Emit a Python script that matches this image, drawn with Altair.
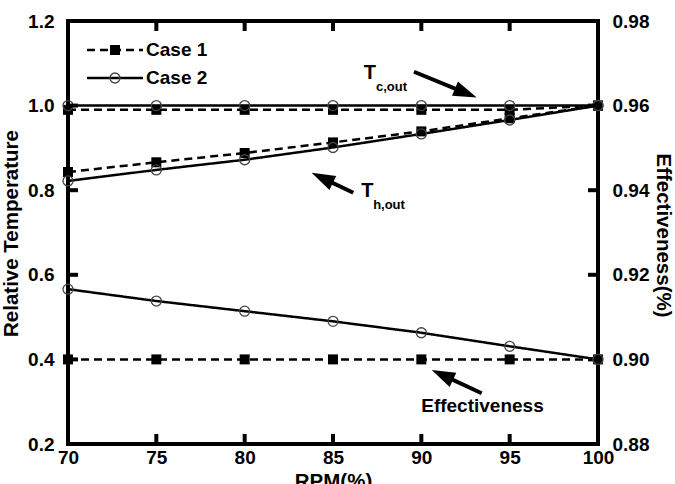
import math
import altair as alt
import pandas as pd

# ---------------- data ----------------
rpm = [70, 75, 80, 85, 90, 95, 100]
tc_case1 = [0.99, 0.99, 0.99, 0.99, 0.99, 0.99, 1.0]
tc_case2 = [1.0, 1.0, 1.0, 1.0, 1.0, 1.0, 1.0]
th_case1 = [0.843, 0.866, 0.888, 0.913, 0.939, 0.970, 1.0]
th_case2 = [0.822, 0.848, 0.872, 0.901, 0.933, 0.966, 1.0]
eff_case1 = [0.90, 0.90, 0.90, 0.90, 0.90, 0.90, 0.90]
eff_case2 = [0.9166, 0.9138, 0.9114, 0.909, 0.9063, 0.9031, 0.90]

cases = ["Case 1", "Case 2"]
x_ticks = [70, 75, 80, 85, 90, 95, 100]
yl_ticks = [0.2, 0.4, 0.6, 0.8, 1.0, 1.2]
yr_ticks = [0.88, 0.90, 0.92, 0.94, 0.96, 0.98]

FONT = "Liberation Sans"
W, H = 530, 423
X0, X1 = 70, 100
YL0, YL1 = 0.2, 1.2
YR0, YR1 = 0.88, 0.98
TICK_PX = 10
tick_dx = TICK_PX * (X1 - X0) / W
tick_dyl = TICK_PX * (YL1 - YL0) / H


def right_to_left(v):
    # position of a right-axis value expressed on the left axis
    return YL0 + (v - YR0) * (YL1 - YL0) / (YR1 - YR0)


rows = []
for name, c1, c2 in [("Tc", tc_case1, tc_case2), ("Th", th_case1, th_case2)]:
    for r, a, b in zip(rpm, c1, c2):
        rows.append({"rpm": r, "value": a, "case": "Case 1", "series": name})
        rows.append({"rpm": r, "value": b, "case": "Case 2", "series": name})
temp_df = pd.DataFrame(rows)

eff_rows = []
for r, a, b in zip(rpm, eff_case1, eff_case2):
    eff_rows.append({"rpm": r, "value": a, "case": "Case 1"})
    eff_rows.append({"rpm": r, "value": b, "case": "Case 2"})
eff_df = pd.DataFrame(eff_rows)

# annotation geometry (data space of left axis)
arrow_names = ["Tc", "Th", "Eff"]
arrow_tail_x = [89.585, 86.15, 93.417]
arrow_tail_y = [1.080, 0.794, 0.320]
arrow_tip_x = [93.134, 83.79, 90.586]
arrow_tip_y = [1.019, 0.841, 0.375]

seg_rows, head_rows = [], []
for n, tx, ty, hx, hy in zip(arrow_names, arrow_tail_x, arrow_tail_y, arrow_tip_x, arrow_tip_y):
    ex = tx + 0.8 * (hx - tx)
    ey = ty + 0.8 * (hy - ty)
    seg_rows.append({"seg": n, "x": tx, "value": ty, "o": 0})
    seg_rows.append({"seg": n, "x": ex, "value": ey, "o": 1})
    ang = math.degrees(math.atan2((hx - tx) * W / (X1 - X0), (hy - ty) * H / (YL1 - YL0))) % 360
    head_rows.append({"arrow": n, "x": hx, "value": hy, "angle": ang})

# inward tick segments on the four sides of the frame
for v in x_ticks[1:-1]:
    seg_rows += [{"seg": f"b{v}", "x": v, "value": YL0, "o": 0},
                 {"seg": f"b{v}", "x": v, "value": YL0 + tick_dyl, "o": 1},
                 {"seg": f"t{v}", "x": v, "value": YL1, "o": 0},
                 {"seg": f"t{v}", "x": v, "value": YL1 - tick_dyl, "o": 1}]
for v in yl_ticks[1:-1]:
    seg_rows += [{"seg": f"l{v}", "x": X0, "value": v, "o": 0},
                 {"seg": f"l{v}", "x": X0 + tick_dx, "value": v, "o": 1}]
for v in yr_ticks[1:-1]:
    seg_rows += [{"seg": f"r{v}", "x": X1, "value": right_to_left(v), "o": 0},
                 {"seg": f"r{v}", "x": X1 - tick_dx, "value": right_to_left(v), "o": 1}]
seg_df = pd.DataFrame(seg_rows)
head_df = pd.DataFrame(head_rows)

label_text = ["T", "c,out", "T", "h,out", "Effectiveness"]
label_x = [87.09, 88.31, 86.95, 88.17, 93.46]
label_y = [1.078, 1.044, 0.798, 0.765, 0.290]
label_size = [20, 13, 20, 13, 19]
label_df = pd.DataFrame({"text": label_text, "x": label_x, "value": label_y, "size": label_size})

legend_y = [1.1314, 1.0652]
legend_x0, legend_x1, legend_xm, legend_xt = 71.075, 74.245, 72.66, 74.42
leg_line_df = pd.DataFrame(
    [{"case": c, "x": legend_x0, "value": y} for c, y in zip(cases, legend_y)]
    + [{"case": c, "x": legend_x1, "value": y} for c, y in zip(cases, legend_y)]
)
leg_pt_df = pd.DataFrame([{"case": c, "x": legend_xm, "value": y} for c, y in zip(cases, legend_y)])
leg_txt_df = pd.DataFrame([{"case": c, "x": legend_xt, "value": y} for c, y in zip(cases, legend_y)])

# ---------------- scales / axes ----------------
xscale = alt.Scale(domain=[X0, X1], nice=False, zero=False)
ylscale = alt.Scale(domain=[YL0, YL1], nice=False, zero=False)
yrscale = alt.Scale(domain=[YR0, YR1], nice=False, zero=False)
dash_scale = alt.Scale(domain=cases, range=[[8, 5], [1, 0]])

axis_style = dict(
    labelFont=FONT, labelFontSize=19, labelFontWeight="bold", labelColor="black",
    titleFont=FONT, titleFontSize=20.5, titleFontWeight="bold", titleColor="black",
    ticks=False, grid=False, domain=False, labelFlush=False, labelOverlap=False,
)

x_bottom = alt.Axis(orient="bottom", values=x_ticks, format="d", title="RPM(%)",
                    labelPadding=4, titleBaseline="top", titleY=27, titleX=W / 2,
                    **axis_style)
y_left = alt.Axis(orient="left", values=yl_ticks, format=".1f", title="Relative Temperature",
                  labelPadding=14, titleAngle=-90, titleBaseline="middle",
                  titleX=-57, titleY=212, **axis_style)
y_right = alt.Axis(orient="right", values=yr_ticks, format=".2f", title="Effectiveness(%)",
                   labelPadding=14, titleAngle=90, titleBaseline="middle",
                   titleX=64, titleY=214, **axis_style)


def XA(f):
    return alt.X(f, type="quantitative", scale=xscale, axis=x_bottom)


def YL(f):
    return alt.Y(f, type="quantitative", scale=ylscale, axis=y_left)


def YR(f):
    return alt.Y(f, type="quantitative", scale=yrscale, axis=y_right)


# ---------------- left (temperature) layers ----------------
temp_lines = alt.Chart(temp_df).mark_line(color="black", strokeWidth=2.5).encode(
    x=XA("rpm"), y=YL("value"),
    strokeDash=alt.StrokeDash("case:N", scale=dash_scale, legend=None),
    detail="series:N",
)
temp_sq = alt.Chart(temp_df).transform_filter(alt.datum.case == "Case 1").mark_point(
    shape="square", filled=True, color="black", size=100, opacity=1
).encode(x=XA("rpm"), y=YL("value"))
temp_ci = alt.Chart(temp_df).transform_filter(alt.datum.case == "Case 2").mark_point(
    shape="circle", filled=False, stroke="#444444", strokeWidth=1.3, size=100, opacity=1
).encode(x=XA("rpm"), y=YL("value"))

segments = alt.Chart(seg_df).mark_line(color="black", strokeWidth=4).encode(
    x=XA("x"), y=YL("value"), detail="seg:N", order="o:Q"
)
heads = alt.Chart(head_df).mark_point(
    shape="M0,0L0.7,2.1L-0.7,2.1Z", filled=True, color="black", size=500, opacity=1
).encode(x=XA("x"), y=YL("value"), angle=alt.Angle("angle:Q", scale=None))

labels = alt.Chart(label_df).mark_text(
    font=FONT, fontWeight="bold", color="black", baseline="middle", align="center"
).encode(
    x=XA("x"), y=YL("value"), text="text:N",
    size=alt.Size("size:Q", scale=None, legend=None),
)

leg_lines = alt.Chart(leg_line_df).mark_line(color="black", strokeWidth=2.5).encode(
    x=XA("x"), y=YL("value"),
    strokeDash=alt.StrokeDash("case:N", scale=dash_scale, legend=None),
    detail="case:N",
)
leg_sq = alt.Chart(leg_pt_df).transform_filter(alt.datum.case == "Case 1").mark_point(
    shape="square", filled=True, color="black", size=100, opacity=1
).encode(x=XA("x"), y=YL("value"))
leg_ci = alt.Chart(leg_pt_df).transform_filter(alt.datum.case == "Case 2").mark_point(
    shape="circle", filled=False, stroke="#444444", strokeWidth=1.3, size=100, opacity=1
).encode(x=XA("x"), y=YL("value"))
leg_txt = alt.Chart(leg_txt_df).mark_text(
    font=FONT, fontWeight="bold", fontSize=19, color="black", align="left", baseline="middle"
).encode(x=XA("x"), y=YL("value"), text="case:N")

left = alt.layer(temp_lines, temp_sq, temp_ci, segments, heads, labels,
                 leg_lines, leg_sq, leg_ci, leg_txt)

# ---------------- right (effectiveness) layers ----------------
eff_lines = alt.Chart(eff_df).mark_line(color="black", strokeWidth=2.5).encode(
    x=XA("rpm"), y=YR("value"),
    strokeDash=alt.StrokeDash("case:N", scale=dash_scale, legend=None),
)
eff_sq = alt.Chart(eff_df).transform_filter(alt.datum.case == "Case 1").mark_point(
    shape="square", filled=True, color="black", size=100, opacity=1
).encode(x=XA("rpm"), y=YR("value"))
eff_ci = alt.Chart(eff_df).transform_filter(alt.datum.case == "Case 2").mark_point(
    shape="circle", filled=False, stroke="#444444", strokeWidth=1.3, size=100, opacity=1
).encode(x=XA("rpm"), y=YR("value"))

right = alt.layer(eff_lines, eff_sq, eff_ci)

chart = alt.layer(left, right).resolve_scale(y="independent").properties(
    width=W, height=H,
    autosize=alt.AutoSizeParams(type="none"),
    padding={"left": 68, "top": 21, "right": 77, "bottom": 40},
    background="white",
).configure_view(stroke="black", strokeWidth=4)

chart.save("out.html", embed_options={"renderer": "svg", "actions": False})
